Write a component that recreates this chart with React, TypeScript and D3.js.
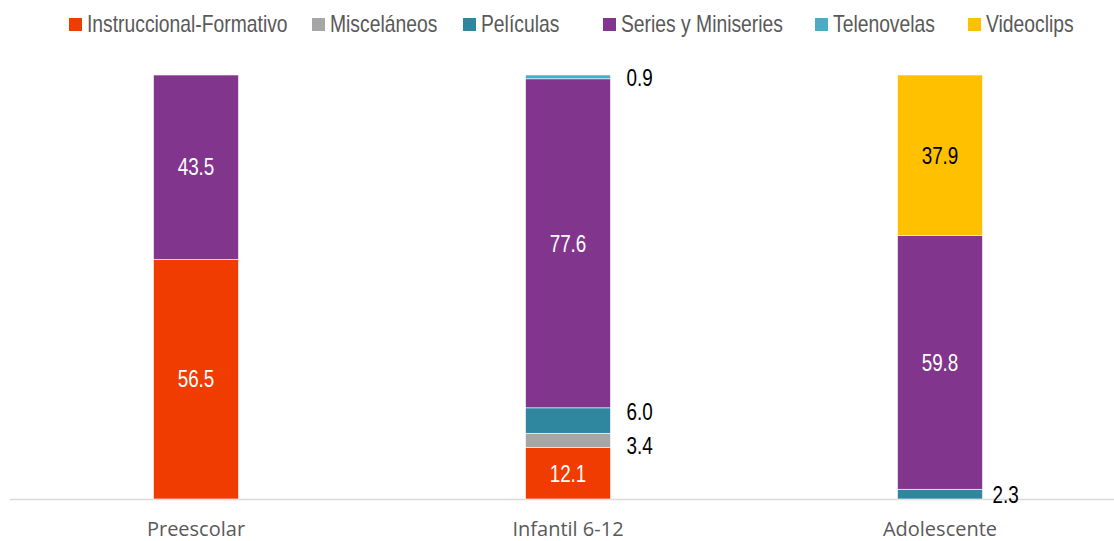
import React, { useEffect, useRef } from "react";
import * as d3 from "d3";

const categories = ["Preescolar", "Infantil 6-12", "Adolescente"];
const seriesNames = [
  "Instruccional-Formativo",
  "Misceláneos",
  "Películas",
  "Series y Miniseries",
  "Telenovelas",
  "Videoclips",
];
const seriesColors = ["#F03C00", "#A6A6A6", "#2E879F", "#82358C", "#4BACC6", "#FFC000"];
// values per series, in category order
const instruccional = [56.5, 12.1, 0];
const miscelaneos = [0, 3.4, 0];
const peliculas = [0, 6.0, 2.3];
const series = [43.5, 77.6, 59.8];
const telenovelas = [0, 0.9, 0];
const videoclips = [0, 0, 37.9];
const yTicks = [0, 100];

// legend layout (left edge of each legend swatch)
const legendX = [69, 312, 463, 603, 815, 968];

// label style: inside (white/black) or outside (to the right of the bar)
const labelMode: Record<string, string> = {
  "Preescolar|Instruccional-Formativo": "in",
  "Preescolar|Series y Miniseries": "in",
  "Infantil 6-12|Instruccional-Formativo": "in",
  "Infantil 6-12|Misceláneos": "out",
  "Infantil 6-12|Películas": "out",
  "Infantil 6-12|Series y Miniseries": "in",
  "Infantil 6-12|Telenovelas": "out",
  "Adolescente|Películas": "out",
  "Adolescente|Series y Miniseries": "in",
  "Adolescente|Videoclips": "in",
};
const outsideNudge: Record<string, [number, number]> = {
  "Infantil 6-12|Misceláneos": [16, 5],
  "Infantil 6-12|Películas": [16, -9],
  "Infantil 6-12|Telenovelas": [16, 1],
  "Adolescente|Películas": [10, 1],
};

const W = 1114;
const H = 541;
const NARROW = 0.82;
const FONT = "'Liberation Sans', Arial, sans-serif";

export default function App() {
  const ref = useRef<SVGSVGElement>(null);

  useEffect(() => {
    const svg = d3.select(ref.current);
    svg.selectAll("*").remove();

    const allValues = [instruccional, miscelaneos, peliculas, series, telenovelas, videoclips];
    const rows = categories.map((c, i) => {
      const r: any = { cat: c };
      seriesNames.forEach((s, j) => (r[s] = allValues[j][i]));
      return r;
    });
    const stacked = d3.stack().keys(seriesNames)(rows);

    const x = d3
      .scaleBand()
      .domain(categories)
      .range([10, 1126])
      .paddingInner(0.7715)
      .paddingOuter(0.38575);
    const y = d3.scaleLinear().domain([yTicks[0], yTicks[1]]).range([499, 75]);

    // axis line
    svg
      .append("line")
      .attr("x1", 10)
      .attr("x2", W)
      .attr("y1", y(0) + 0.5)
      .attr("y2", y(0) + 0.5)
      .attr("stroke", "#D9D9D9")
      .attr("stroke-width", 1.5);

    const color = d3.scaleOrdinal<string, string>().domain(seriesNames).range(seriesColors);

    const narrowText = (parent: any, px: number, py: number, sx = NARROW) =>
      parent
        .append("g")
        .attr("transform", `translate(${px},${py}) scale(${sx},1)`)
        .append("text")
        .attr("font-family", FONT)
        .attr("font-size", 23);

    stacked.forEach((layer) => {
      const g = svg.append("g");
      layer.forEach((d: any) => {
        const v = d[1] - d[0];
        if (v <= 0) return;
        const cat = d.data.cat;
        g.append("rect")
          .attr("x", x(cat)!)
          .attr("width", x.bandwidth())
          .attr("y", y(d[1]))
          .attr("height", y(d[0]) - y(d[1]))
          .attr("fill", color(layer.key))
          .attr("stroke", "#ffffff")
          .attr("stroke-width", 0.6);
        const key = cat + "|" + layer.key;
        const mode = labelMode[key];
        if (!mode) return;
        const cy = (y(d[0]) + y(d[1])) / 2;
        if (mode === "in") {
          narrowText(g, x(cat)! + x.bandwidth() / 2, cy)
            .attr("dominant-baseline", "central")
            .attr("text-anchor", "middle")
            .attr("fill", layer.key === "Videoclips" ? "#000000" : "#ffffff")
            .text(v.toFixed(1));
        } else {
          const n = outsideNudge[key] || [10, 0];
          narrowText(g, x(cat)! + x.bandwidth() + n[0], cy + n[1])
            .attr("dominant-baseline", "central")
            .attr("text-anchor", "start")
            .attr("fill", "#000000")
            .text(v.toFixed(1));
        }
      });
    });

    // category labels
    svg
      .append("g")
      .selectAll("text")
      .data(categories)
      .join("text")
      .attr("x", (d) => x(d)! + x.bandwidth() / 2)
      .attr("y", 536)
      .attr("text-anchor", "middle")
      .attr("font-family", "'Open Sans', sans-serif")
      .attr("font-size", 20)
      .attr("fill", "#595959")
      .text((d) => d);

    // legend
    const leg = svg.append("g");
    seriesNames.forEach((s, i) => {
      const lx = legendX[i];
      leg
        .append("rect")
        .attr("x", lx)
        .attr("y", 18)
        .attr("width", 13)
        .attr("height", 13)
        .attr("fill", seriesColors[i]);
      narrowText(leg, lx + 18, 32, 0.84).attr("fill", "#595959").text(s);
    });
  }, []);

  return (
    <svg
      ref={ref}
      width={W}
      height={H}
      style={{ position: "absolute", left: 0, top: 0, background: "#ffffff" }}
    />
  );
}
